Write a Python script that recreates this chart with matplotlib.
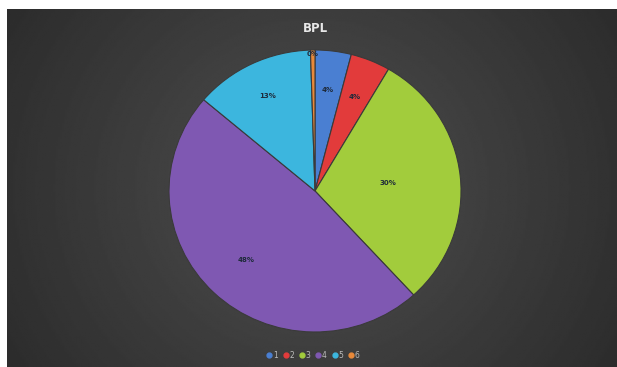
import numpy as np
import matplotlib.pyplot as plt
from matplotlib.lines import Line2D

# BPL share per category
labels = ['1', '2', '3', '4', '5', '6']
shares = [4.0, 4.4, 29.8, 48.0, 13.3, 0.5]
colors = ['#4a7fd2', '#e23b3b', '#a2cc3c', '#7f58b2', '#3cb6de', '#e8893a']
label_dist = [0.72, 0.72, 0.50, 0.68, 0.75, 0.97]

fig = plt.figure(figsize=(6.17, 3.67), dpi=100)
fig.patch.set_facecolor('white')

# dark radial background panel
bg = fig.add_axes([7 / 617, 0, 610 / 617, 358 / 367])
yy, xx = np.mgrid[-1:1:200j, -1:1:340j]
rr = np.sqrt((xx * 0.9) ** 2 + (yy * 0.55) ** 2)
shade = np.clip(0.31 - 0.13 * rr, 0.16, 0.31)
bg.imshow(shade, cmap='gray', vmin=0, vmax=1, aspect='auto',
          extent=[0, 1, 0, 1], interpolation='bilinear')
bg.set_axis_off()

ax = fig.add_axes([0.2739, 0.0954, 0.4733, 0.7684])
wedges, texts, autotexts = ax.pie(
    shares, colors=colors, startangle=90, counterclock=False,
    autopct='%.0f%%', pctdistance=0.7,
    wedgeprops=dict(linewidth=0.8, edgecolor='#3a3a3a'),
    textprops=dict(fontsize=5, fontweight='bold', color='#1e2a3a'))
for t, d in zip(autotexts, label_dist):
    x, y = t.get_position()
    t.set_position((x / 0.7 * d, y / 0.7 * d))
ax.set_aspect('auto')
ax.set_xlim(-1, 1)
ax.set_ylim(-1, 1)
ax.set_axis_off()

fig.text(315 / 617, 1 - 29 / 367, 'BPL', ha='center', va='center',
         fontsize=8.5, fontweight='bold', color='#e8e8e8')

handles = [Line2D([], [], marker='o', linestyle='', markersize=3.5,
                  markerfacecolor=c, markeredgecolor=c) for c in colors]
leg = fig.legend(handles, labels, loc='center', bbox_to_anchor=(313 / 617, 12 / 367),
                 ncol=6, frameon=False, fontsize=5.5, handletextpad=0.1,
                 columnspacing=0.6, handlelength=0.8)
for t in leg.get_texts():
    t.set_color('#bbbbbb')

fig.savefig('out.png', dpi=100, facecolor=fig.get_facecolor())
